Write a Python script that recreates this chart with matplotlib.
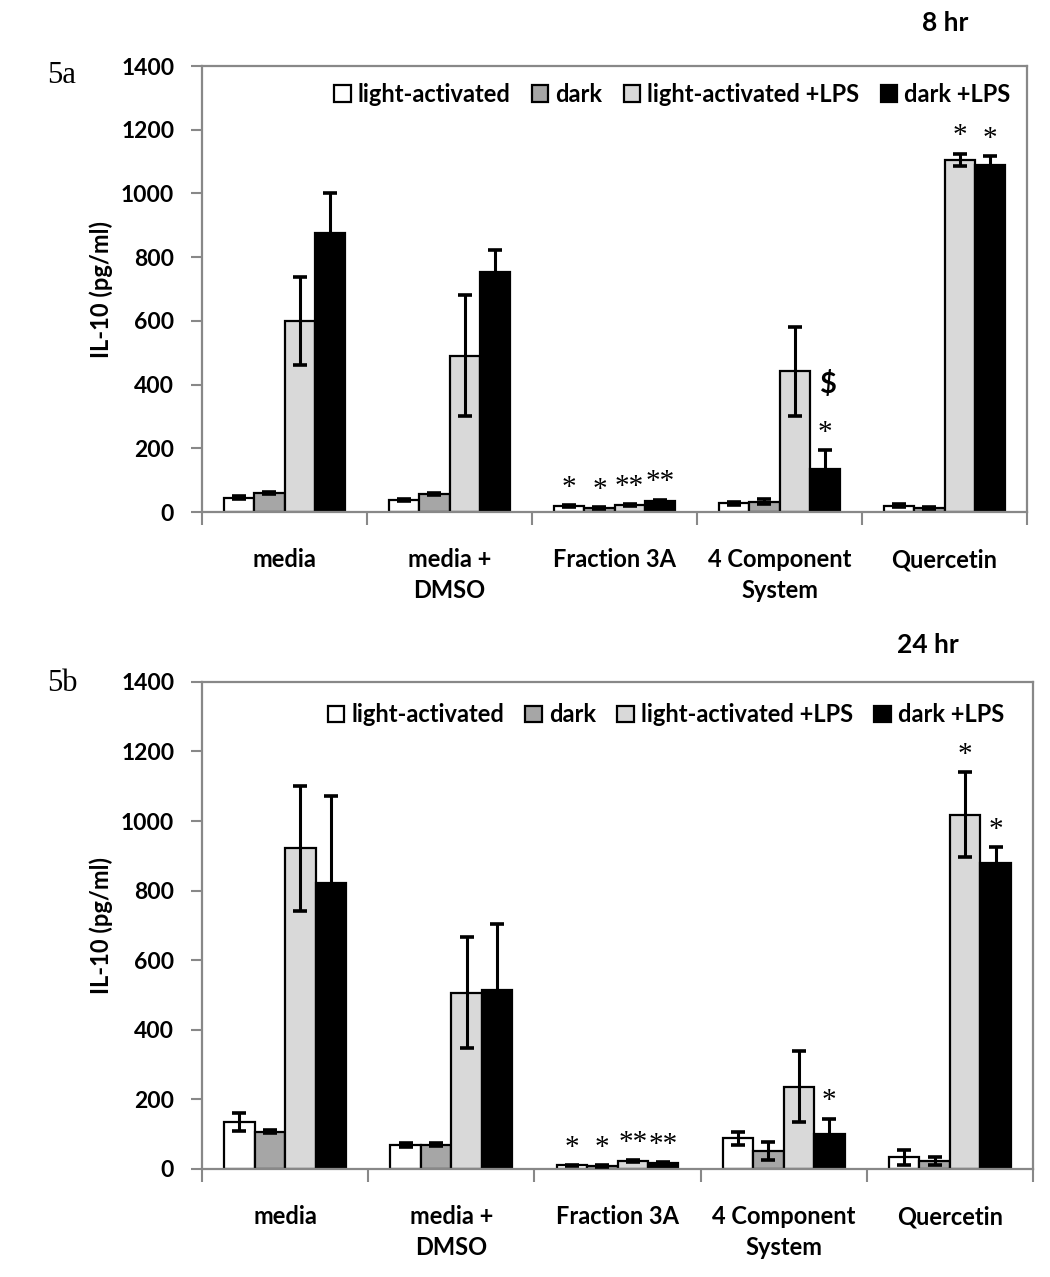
import matplotlib.pyplot as plt
import numpy as np

# categories and series
groups = ['media', 'media +\nDMSO', 'Fraction 3A', '4 Component\nSystem', 'Quercetin']
series = ['light-activated', 'dark', 'light-activated +LPS', 'dark +LPS']
colors = ['#ffffff', '#a6a6a6', '#d9d9d9', '#000000']

# 8 hr (5a)
a_vals = [[45, 38, 18, 27, 20],
          [60, 58, 12, 33, 14],
          [600, 490, 22, 442, 1105],
          [875, 755, 35, 135, 1088]]
a_errs = [[5, 4, 3, 6, 5],
          [3, 3, 3, 9, 3],
          [138, 190, 4, 140, 20],
          [125, 67, 4, 60, 30]]
a_marks = [['', '', '*', '', ''],
           ['', '', '*', '', ''],
           ['', '', '**', '', '*'],
           ['', '', '**', '*', '*']]

# 24 hr (5b)
b_vals = [[135, 70, 10, 88, 33],
          [107, 70, 8, 52, 22],
          [922, 507, 22, 237, 1018],
          [822, 515, 18, 100, 880]]
b_errs = [[25, 6, 2, 18, 22],
          [5, 5, 2, 25, 12],
          [180, 160, 3, 103, 122],
          [250, 190, 2, 45, 45]]
b_marks = [['', '', '*', '', ''],
           ['', '', '*', '', ''],
           ['', '', '**', '', '*'],
           ['', '', '**', '*', '*']]

plt.rcParams['font.family'] = ['Lato', 'DejaVu Sans']
plt.rcParams['font.weight'] = 'bold'

fig = plt.figure(figsize=(10.5, 12.77), dpi=100)
ax_a = fig.add_axes([0.1924, 0.599, 0.7857, 0.3493])
ax_b = fig.add_axes([0.1924, 0.0846, 0.7914, 0.3814])

bw = 0.183
x = np.arange(len(groups)) + 0.5


def draw(ax, vals, errs, marks):
    for i, s in enumerate(series):
        pos = x + (i - 1.5) * bw
        ax.bar(pos, vals[i], bw, color=colors[i], edgecolor='black', linewidth=1.6,
               label=s, zorder=2)
        ax.errorbar(pos, vals[i], yerr=errs[i], fmt='none', ecolor='black',
                    elinewidth=2.2, capsize=5, capthick=2.6, zorder=3)
        for j in range(len(groups)):
            if marks[i][j]:
                ax.annotate(marks[i][j], (pos[j], vals[i][j] + errs[i][j]),
                            xytext=(0, 3), textcoords='offset points',
                            ha='center', va='bottom', fontsize=21,
                            family='Liberation Serif', fontweight='normal')
    ax.set_xlim(0, len(groups))
    ax.set_ylim(0, 1400)
    ax.set_yticks(range(0, 1401, 200))
    ax.set_xticks(range(len(groups) + 1))
    ax.set_xticklabels([])
    ax.set_xticks(x, minor=True)
    ax.set_xticklabels(groups, minor=True, fontsize=17, fontweight='bold',
                       linespacing=1.4)
    ax.tick_params(axis='x', which='minor', length=0, pad=26)
    ax.tick_params(axis='x', which='major', length=9, width=1.5, color='#888888',
                   direction='out')
    ax.tick_params(axis='y', length=8, width=1.5, color='#888888', labelsize=16.5,
                   pad=12)
    for lab in ax.get_yticklabels():
        lab.set_fontweight('bold')
    for sp in ax.spines.values():
        sp.set_color('#888888')
        sp.set_linewidth(1.6)
    ax.set_ylabel('IL-10 (pg/ml)', fontsize=17, fontweight='bold', labelpad=6)


draw(ax_a, a_vals, a_errs, a_marks)
draw(ax_b, b_vals, b_errs, b_marks)

ax_a.legend(loc='upper right', bbox_to_anchor=(1.0, 1.0), ncol=4, frameon=False,
            fontsize=17, handlelength=0.7, handleheight=0.7, handletextpad=0.3,
            columnspacing=0.9, borderaxespad=0.3)
ax_b.legend(loc='upper right', bbox_to_anchor=(0.985, 0.99), ncol=4, frameon=False,
            fontsize=17, handlelength=0.7, handleheight=0.7, handletextpad=0.3,
            columnspacing=0.9, borderaxespad=0.3)

ax_a.annotate('$', (x[3] + 1.5 * bw + 0.02, 400), ha='center', va='center', fontsize=21,
              fontweight='bold')

fig.text(0.90, 0.982, '8 hr', ha='center', va='center', fontsize=19, fontweight='bold')
fig.text(0.884, 0.495, '24 hr', ha='center', va='center', fontsize=19, fontweight='bold')
fig.text(0.059, 0.941, '5a', ha='center', va='center', fontsize=22,
         family='Liberation Serif', fontweight='normal')
fig.text(0.059, 0.465, '5b', ha='center', va='center', fontsize=22,
         family='Liberation Serif', fontweight='normal')

fig.savefig('out.png', dpi=100)
